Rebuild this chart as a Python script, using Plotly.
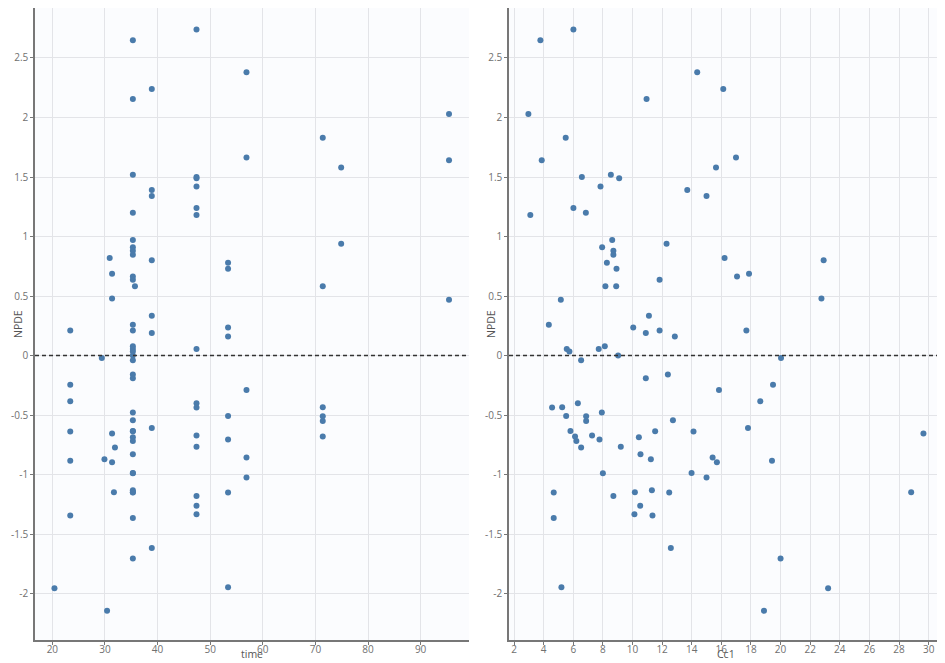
import plotly.graph_objects as go

# one entry per observation: time, Cc1 and NPDE share the same order
TIME = [
    47.4, 35.3, 56.9, 38.9, 35.3, 95.4, 71.4, 56.9, 95.4, 74.9,
    35.3, 47.4, 47.4, 47.4, 38.9, 38.9, 47.4, 35.3, 47.4, 35.3,
    74.9, 35.3, 35.3, 35.3, 30.9, 38.9, 53.4, 53.4, 31.35, 35.3,
    35.3, 35.7, 71.4, 31.35, 95.4, 38.9, 35.3, 53.4, 23.4, 35.3,
    38.9, 53.4, 35.3, 47.4, 35.3, 35.3, 35.3, 29.4, 35.3, 35.3,
    35.3, 23.4, 56.9, 23.4, 47.4, 47.4, 71.4, 35.3, 53.4, 71.4,
    35.3, 71.4, 38.9, 35.3, 35.3, 23.4, 31.35, 47.4, 71.4, 35.3,
    53.4, 35.3, 47.4, 31.9, 35.3, 56.9, 29.9, 23.4, 31.35, 35.3,
    35.3, 56.9, 35.3, 35.3, 31.7, 53.4, 35.3, 47.4, 47.4, 47.4,
    23.4, 35.3, 38.9, 35.3, 20.4, 53.4, 30.4,
]

CC1 = [
    6.01, 3.78, 14.37, 16.13, 10.95, 2.97, 5.49, 16.99, 3.87, 15.64,
    8.54, 6.58, 9.10, 7.84, 13.70, 15.0, 6.01, 6.85, 3.10, 8.63,
    12.30, 7.95, 8.71, 8.71, 16.22, 22.91, 8.27, 8.92, 17.87, 17.06,
    11.83, 8.17, 8.90, 22.76, 5.16, 11.11, 4.35, 10.05, 11.83, 17.69,
    10.90, 12.86, 8.13, 7.72, 5.56, 5.74, 9.03, 20.03, 6.53, 12.39,
    10.90, 19.49, 15.84, 18.63, 6.31, 4.57, 5.25, 7.93, 5.52, 6.87,
    12.73, 6.87, 17.80, 5.81, 11.53, 14.12, 29.65, 7.27, 6.12, 10.43,
    7.77, 6.21, 9.21, 6.53, 10.54, 15.41, 11.24, 19.42, 15.70, 8.0,
    13.99, 15.0, 11.31, 4.68, 10.16, 12.48, 28.82, 8.71, 10.52, 10.13,
    11.35, 4.68, 12.59, 20.0, 23.21, 5.20, 18.88,
]

NPDE = [
    2.74, 2.65, 2.38, 2.24, 2.155, 2.03, 1.83, 1.664, 1.64, 1.58,
    1.52, 1.50, 1.49, 1.42, 1.39, 1.34, 1.24, 1.20, 1.18, 0.97,
    0.94, 0.91, 0.88, 0.846, 0.82, 0.80, 0.78, 0.73, 0.687, 0.664,
    0.636, 0.583, 0.583, 0.479, 0.468, 0.334, 0.258, 0.235, 0.21, 0.21,
    0.19, 0.16, 0.079, 0.056, 0.054, 0.034, 0.0, -0.02, -0.04, -0.16,
    -0.19, -0.246, -0.29, -0.383, -0.40, -0.437, -0.434, -0.479, -0.507, -0.51,
    -0.543, -0.549, -0.608, -0.633, -0.636, -0.638, -0.655, -0.672, -0.68, -0.686,
    -0.706, -0.717, -0.767, -0.773, -0.829, -0.857, -0.871, -0.885, -0.896, -0.989,
    -0.986, -1.025, -1.131, -1.151, -1.148, -1.151, -1.148, -1.18, -1.263, -1.333,
    -1.345, -1.364, -1.616, -1.706, -1.955, -1.946, -2.145,
]

Y_TICKS = [-2, -1.5, -1, -0.5, 0, 0.5, 1, 1.5, 2, 2.5]
Y_TICK_TEXT = ["-2", "-1.5", "-1", "-0.5", "0", "0.5", "1", "1.5", "2", "2.5"]
TIME_TICKS = [20, 30, 40, 50, 60, 70, 80, 90]
CC1_TICKS = list(range(2, 31, 2))

DOT = "#4a7bab"
GRID = "#e3e4e8"
TICK_FONT = dict(family="Open Sans, sans-serif", size=10, color="#707070")
TITLE_FONT = dict(family="Open Sans, sans-serif", size=10.5, color="#555555")

# the page body adds an 8px offset, so the figure is 8px smaller than the window
W, H = 937, 655
M_L, M_R, M_T, M_B = 27, 2, 0, 23
PLOT_W = W - M_L - M_R
PLOT_H = H - M_T - M_B

fig = go.Figure()
fig.add_trace(go.Scatter(
    x=TIME, y=NPDE, mode="markers", xaxis="x", yaxis="y",
    marker=dict(color=DOT, size=6), showlegend=False,
    hovertemplate="time %{x}<br>NPDE %{y}<extra></extra>",
))
fig.add_trace(go.Scatter(
    x=CC1, y=NPDE, mode="markers", xaxis="x2", yaxis="y2",
    marker=dict(color=DOT, size=6), showlegend=False,
    hovertemplate="Cc1 %{x}<br>NPDE %{y}<extra></extra>",
))

_axis = dict(
    showgrid=True, gridcolor=GRID, gridwidth=1,
    zeroline=False, showline=True, linecolor="#777777", linewidth=1.5,
    ticks="outside", ticklen=3, tickcolor="#777777",
    tickfont=TICK_FONT, automargin=False,
)
_xaxis = dict(**_axis, ticklabelstandoff=-4)
_yaxis = dict(**_axis, range=[-2.39, 2.92], tickvals=Y_TICKS, ticktext=Y_TICK_TEXT,
              ticklabelstandoff=0)

LEFT_DOM = [0, 434 / PLOT_W]
RIGHT_DOM = [474 / PLOT_W, 1]

fig.update_layout(
    width=W, height=H,
    paper_bgcolor="white",
    plot_bgcolor="#fbfcfe",
    margin=dict(l=M_L, r=M_R, t=M_T, b=M_B),
    xaxis=dict(**_xaxis, domain=LEFT_DOM, anchor="y", range=[16.7, 99.2],
               tickvals=TIME_TICKS),
    yaxis=dict(**_yaxis, domain=[0, 1], anchor="x"),
    xaxis2=dict(**_xaxis, domain=RIGHT_DOM, anchor="y2", range=[1.66, 30.97],
                tickvals=CC1_TICKS),
    yaxis2=dict(**_yaxis, domain=[0, 1], anchor="x2"),
)

for xr, yr in (("x", "y"), ("x2", "y2")):
    fig.add_shape(type="line", xref=f"{xr} domain", yref=yr, x0=0, x1=1, y0=0, y1=0,
                  line=dict(color="#333333", width=1.5, dash="4px,3px"))

# axis titles placed as annotations so they sit as tight as in the original
x_title_y = -(H - 1 - M_T - PLOT_H) / PLOT_H
for dom, txt in ((LEFT_DOM, "time"), (RIGHT_DOM, "Cc1")):
    fig.add_annotation(text=txt, xref="paper", yref="paper",
                       x=(dom[0] + dom[1]) / 2, y=x_title_y,
                       xanchor="center", yanchor="bottom",
                       showarrow=False, font=TITLE_FONT,
                       borderpad=0)
for px_x in (1, 474):
    fig.add_annotation(text="NPDE", xref="paper", yref="paper",
                       x=(px_x - M_L) / PLOT_W, y=0.5, textangle=-90,
                       xanchor="left", yanchor="middle",
                       showarrow=False, font=TITLE_FONT)

fig.write_html("out.html")
